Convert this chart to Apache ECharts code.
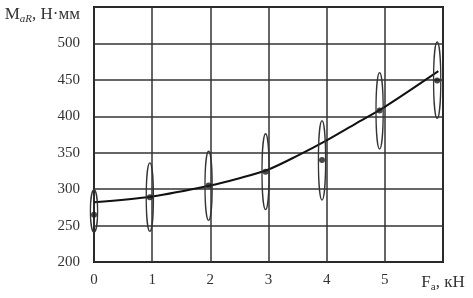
<!DOCTYPE html>
<html><head><meta charset="utf-8">
<script src="https://cdn.jsdelivr.net/npm/echarts@6/dist/echarts.min.js"></script>
<style>html,body{margin:0;padding:0;background:#fff}#c{width:473px;height:298px}</style>
</head><body><div id="c"></div>
<script>
// Data
const forceX = [0, 0.96, 1.97, 2.95, 3.92, 4.91, 5.9];          // F_a, kN (measured points)
const meanMoment = [265, 289, 305, 324, 340, 408, 449];        // mean M_aR, N·mm
const rangeLow = [241, 242, 257, 272, 285, 355, 397];          // lower end of scatter ellipse
const rangeHigh = [299, 336, 352, 376, 394, 460, 502];         // upper end of scatter ellipse
const fitX = [0, 1, 2, 2.5, 3, 3.5, 4, 4.5, 5, 5.92];           // fitted curve x
const fitY = [282, 290, 305, 315, 327, 346, 367, 390, 413, 462];// fitted curve y
const xTicks = [0, 1, 2, 3, 4, 5, 6];
const yTicks = [200, 250, 300, 350, 400, 450, 500, 550];

const serif = '"Liberation Serif", "DejaVu Serif", serif';
const chart = echarts.init(document.getElementById('c'), null, {renderer: 'canvas'});
chart.setOption({
  animation: false,
  backgroundColor: '#fff',
  grid: {left: 94, right: 30, top: 7, bottom: 36, show: true, borderColor: '#111', borderWidth: 2, backgroundColor: 'transparent'},
  xAxis: {
    type: 'value', min: xTicks[0], max: xTicks[xTicks.length - 1], interval: 1,
    axisLine: {show: false}, axisTick: {show: false},
    splitLine: {show: true, lineStyle: {color: '#333', width: 1.5}},
    axisLabel: {
      margin: 11, color: '#333', fontFamily: serif, fontSize: 15, showMaxLabel: true,
      formatter: v => v === 6 ? '{f|F}{s|а}{f|, кН}' : String(v),
      rich: {
        f: {fontFamily: serif, fontSize: 17, color: '#333'},
        s: {fontFamily: serif, fontSize: 11, color: '#333', padding: [9, 0, 0, 0]}
      }
    }
  },
  yAxis: {
    type: 'value', min: yTicks[0], max: yTicks[yTicks.length - 1], interval: 50,
    axisLine: {show: false}, axisTick: {show: false},
    splitLine: {show: true, lineStyle: {color: '#333', width: 1.5}},
    axisLabel: {
      margin: 14, color: '#333', fontFamily: serif, fontSize: 15, showMaxLabel: true,
      formatter: v => v === 550 ? '{f|M}{s|aR}{f|, Н·мм}' : String(v),
      rich: {
        f: {fontFamily: serif, fontSize: 17, color: '#333', padding: [16, 0, 0, 0]},
        s: {fontFamily: serif, fontSize: 11, color: '#333', fontStyle: 'italic', padding: [25, 0, 0, 0]}
      }
    }
  },
  series: [
    {
      type: 'line', smooth: 0.3, symbol: 'none', z: 3,
      lineStyle: {color: '#111', width: 2},
      data: fitX.map((x, i) => [x, fitY[i]])
    },
    {
      type: 'custom', z: 4,
      data: forceX.map((x, i) => [x, rangeLow[i], rangeHigh[i]]),
      renderItem: (params, api) => {
        const top = api.coord([api.value(0), api.value(2)]);
        const bot = api.coord([api.value(0), api.value(1)]);
        return {
          type: 'ellipse',
          shape: {cx: top[0], cy: (top[1] + bot[1]) / 2, rx: 3.6, ry: (bot[1] - top[1]) / 2},
          style: {fill: 'none', stroke: '#333', lineWidth: 1.3}
        };
      }
    },
    {
      type: 'scatter', symbol: 'circle', symbolSize: 6, z: 5,
      itemStyle: {color: '#1a1a1a'},
      data: forceX.map((x, i) => [x, meanMoment[i]])
    }
  ]
});
</script></body></html>
